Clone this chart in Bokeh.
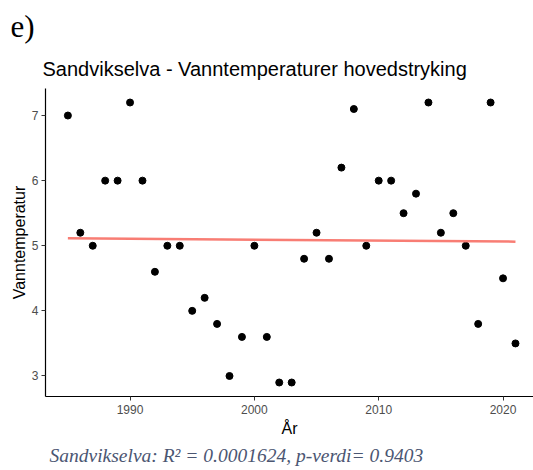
import numpy as np
from bokeh.plotting import figure
from bokeh.models import Title, Range1d, FixedTicker
from bokeh.embed import file_html
from bokeh.resources import INLINE

years = [1985, 1986, 1987, 1988, 1989, 1990, 1991, 1992, 1993, 1994, 1995, 1996,
         1997, 1998, 1999, 2000, 2001, 2002, 2003, 2004, 2005, 2006, 2007, 2008,
         2009, 2010, 2011, 2012, 2013, 2014, 2015, 2016, 2017, 2018, 2019, 2020, 2021]
temps = [7.0, 5.2, 5.0, 6.0, 6.0, 7.2, 6.0, 4.6, 5.0, 5.0, 4.0, 4.2,
         3.8, 3.0, 3.6, 5.0, 3.6, 2.9, 2.9, 4.8, 5.2, 4.8, 6.2, 7.1,
         5.0, 6.0, 6.0, 5.5, 5.8, 7.2, 5.2, 5.5, 5.0, 3.8, 7.2, 4.5, 3.5]
x_ticks = [1990, 2000, 2010, 2020]
y_ticks = [3, 4, 5, 6, 7]
panel_tag = "e)"
title_text = "Sandvikselva - Vanntemperaturer hovedstryking"
x_label = "År"
y_label = "Vanntemperatur"
caption = "Sandvikselva: R² = 0.0001624, p-verdi= 0.9403"

slope, intercept = np.polyfit(years, temps, 1)
fit_x = [min(years), max(years)]
fit_y = [intercept + slope * v for v in fit_x]

p = figure(width=533, height=470, output_backend="svg", toolbar_location=None,
           x_range=Range1d(1983.2, 2022.45), y_range=Range1d(2.685, 7.415),
           min_border_left=45, min_border_right=0, min_border_top=88, min_border_bottom=74)
p.outline_line_color = None
p.xgrid.visible = False
p.ygrid.visible = False
p.background_fill_color = "white"
p.border_fill_color = "white"

for ax, ticks in ((p.xaxis, x_ticks), (p.yaxis, y_ticks)):
    ax.ticker = FixedTicker(ticks=ticks)
    ax.axis_line_color = "black"
    ax.axis_line_width = 1.2
    ax.major_tick_line_color = "#333333"
    ax.major_tick_out = 4
    ax.major_tick_in = 0
    ax.minor_tick_line_color = None
    ax.major_label_text_color = "#4d4d4d"
    ax.major_label_text_font = "Liberation Sans"
    ax.major_label_text_font_size = "12px"
    ax.axis_label_text_font = "Liberation Sans"
    ax.axis_label_text_font_size = "16px"
    ax.axis_label_text_font_style = "normal"
    ax.axis_label_text_color = "black"

p.xaxis.axis_label = x_label
p.yaxis.axis_label = y_label
p.xaxis.major_label_standoff = 4
p.xaxis.axis_label_standoff = 3
p.yaxis.major_label_standoff = 3
p.yaxis.axis_label_standoff = 1

p.scatter(years, temps, size=7, color="black")
p.line(fit_x, fit_y, line_color="#F8766D", line_width=2.5, line_alpha=0.95)

p.add_layout(Title(text=title_text, align="left", offset=-3, standoff=17,
                   text_font="Liberation Sans", text_font_size="20px",
                   text_font_style="normal", text_color="black"), "above")
p.add_layout(Title(text=panel_tag, align="left", offset=-35, standoff=8,
                   text_font="Liberation Serif", text_font_size="31px",
                   text_font_style="normal", text_color="black"), "above")
p.add_layout(Title(text=caption, align="left", offset=4, standoff=6,
                   text_font="Liberation Serif", text_font_size="19.5px",
                   text_font_style="italic", text_color="#4b5672"), "below")

open("out.html", "w").write(file_html(p, INLINE))
